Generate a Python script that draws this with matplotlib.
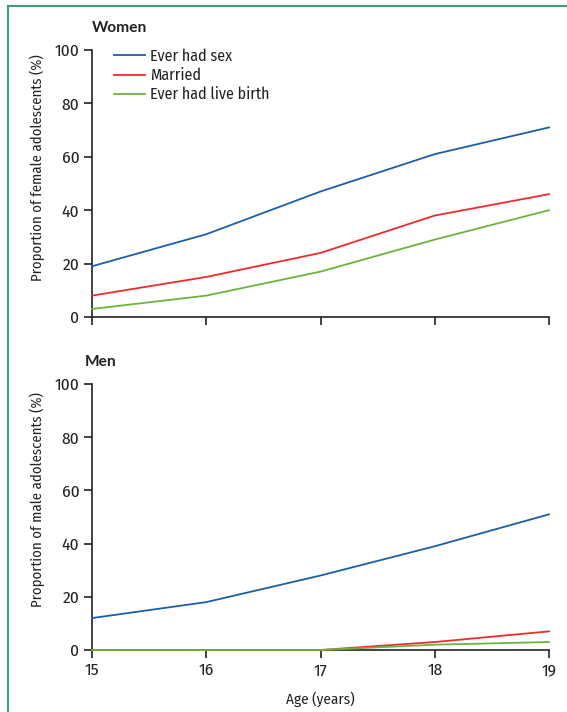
import matplotlib
matplotlib.use("Agg")
import matplotlib.pyplot as plt
from matplotlib.lines import Line2D

plt.rcParams['font.family'] = ['Fira Sans Condensed', 'Lato', 'DejaVu Sans']

ages = [15, 16, 17, 18, 19]
age_labels = ["15", "16", "17", "18", "19"]
women_sex = [19, 31, 47, 61, 71]
women_married = [8, 15, 24, 38, 46]
women_birth = [3, 8, 17, 29, 40]
men_sex = [12, 18, 28, 39, 51]
men_married = [0, 0, 0, 3, 7]
men_birth = [0, 0, 0, 2, 3]
series_names = ["Ever had sex", "Married", "Ever had live birth"]
colors = ["#1b5fa6", "#ee2b2b", "#6cb33f"]
yticks = [0, 20, 40, 60, 80, 100]

W, H = 567, 712
FS = 11.5
TXT = "#222222"
fig = plt.figure(figsize=(W / 100, H / 100), dpi=100)

def ax_rect(l, r, t, b):
    return [l / W, 1 - b / H, (r - l) / W, (b - t) / H]

ax1 = fig.add_axes(ax_rect(92, 549, 50, 317))
ax2 = fig.add_axes(ax_rect(92, 549, 384, 650))

def style(ax, show_xlabels):
    for s in ["top", "right"]:
        ax.spines[s].set_visible(False)
    for s in ["left", "bottom"]:
        ax.spines[s].set_linewidth(1.2)
        ax.spines[s].set_color(TXT)
    ax.set_xlim(15, 19)
    ax.set_ylim(0, 100)
    ax.set_yticks(yticks)
    ax.set_xticks(ages)
    if show_xlabels:
        ax.set_xticklabels(age_labels)
    else:
        ax.set_xticklabels([])
    ax.tick_params(direction="out", length=6, width=1.2, color=TXT,
                   labelsize=12.5, pad=3, labelcolor=TXT)

for ax, data in [(ax1, [women_sex, women_married, women_birth]),
                 (ax2, [men_sex, men_married, men_birth])]:
    for vals, c, name in zip(data, colors, series_names):
        ax.plot(ages, vals, color=c, lw=1.3, label=name, clip_on=False, zorder=3)

style(ax1, False)
style(ax2, True)

ax1.set_ylabel("Proportion of female adolescents (%)", fontsize=10.6, color=TXT)
ax2.set_ylabel("Proportion of male adolescents (%)", fontsize=10.6, color=TXT)
ax1.yaxis.set_label_coords(-0.103, 0.56)
ax2.yaxis.set_label_coords(-0.103, 0.564)
ax2.set_xlabel("Age (years)", fontsize=10.9, labelpad=9, color=TXT)

fig.text(92 / W, 1 - 28 / H, "Women", fontsize=11.2, fontweight="bold", va="center",
         ha="left", family=["Lato", "DejaVu Sans"], color=TXT)
fig.text(85 / W, 1 - 362 / H, "Men", fontsize=11.2, fontweight="bold", va="center",
         ha="left", family=["Lato", "DejaVu Sans"], color=TXT)

leg = ax1.legend(loc="upper left", bbox_to_anchor=(0.035, 1.03), frameon=False,
                 fontsize=FS, handlelength=1.9, handletextpad=0.35, labelspacing=0.2,
                 borderaxespad=0)
for t in leg.get_texts():
    t.set_color(TXT)

frame_color = "#3f9e72"
fig.add_artist(Line2D([8 / W, 1], [1 - 6 / H, 1 - 6 / H], color=frame_color, lw=1.5))
fig.add_artist(Line2D([8 / W, 8 / W], [1 - 6 / H, 0], color=frame_color, lw=1.5))

fig.savefig("out.png", dpi=100)
